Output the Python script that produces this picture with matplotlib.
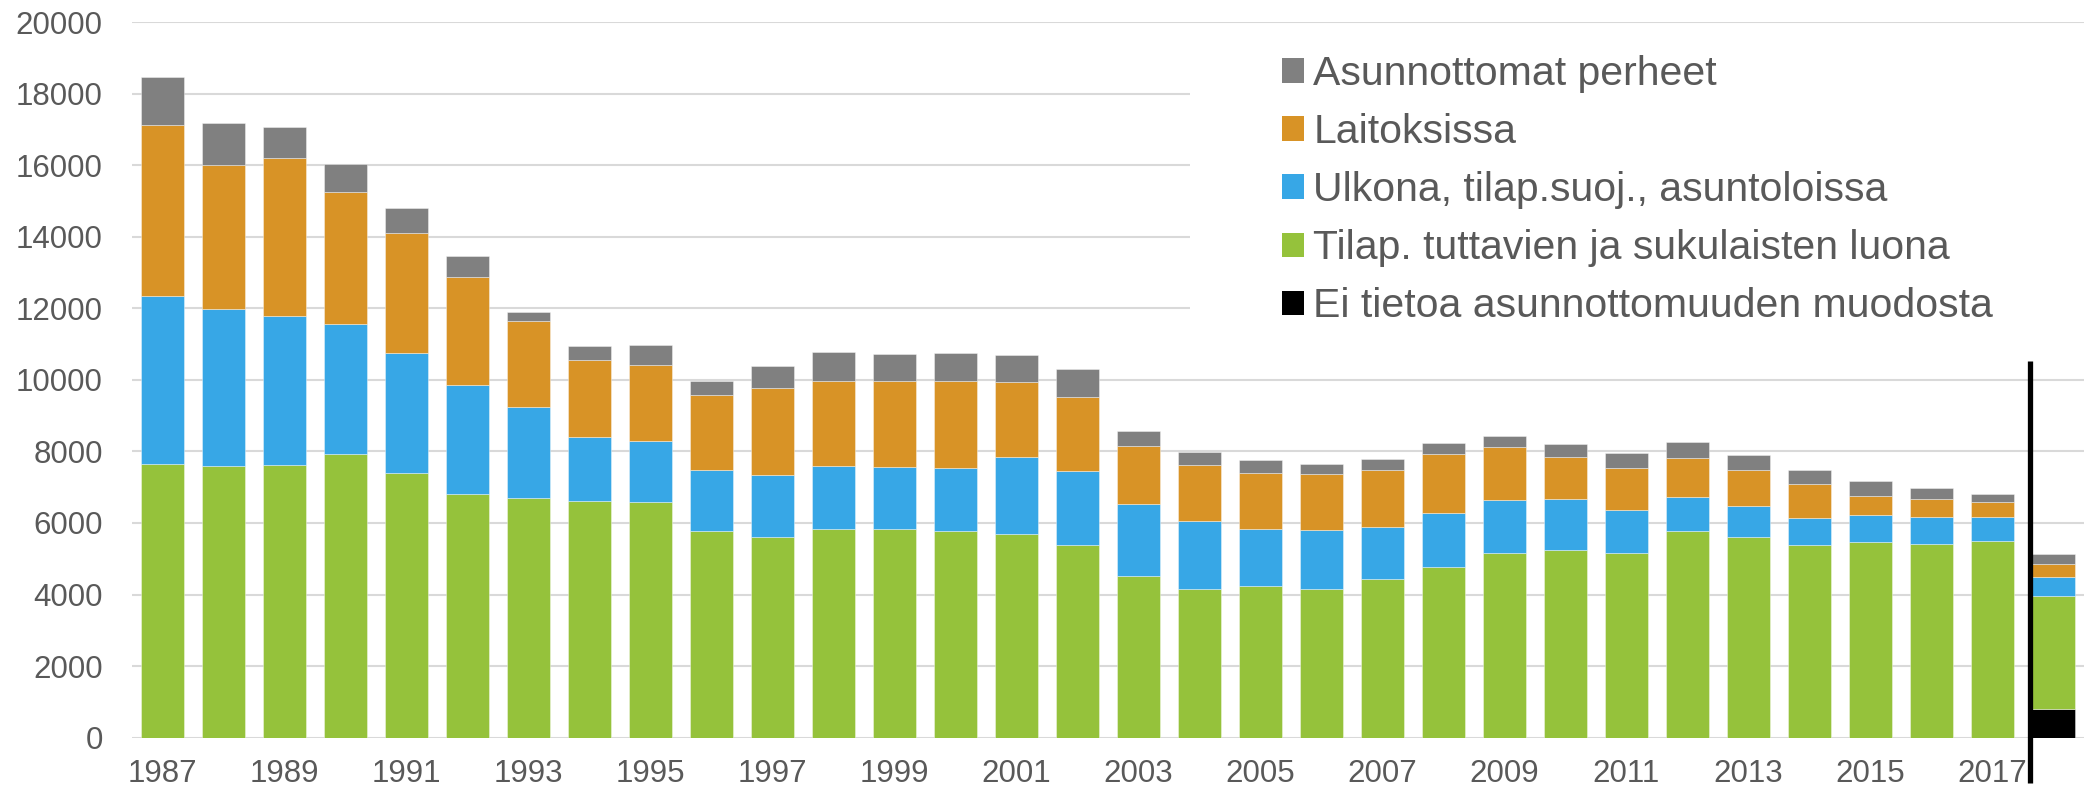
import numpy as np
import matplotlib
matplotlib.use("Agg")
import matplotlib.pyplot as plt
from matplotlib.patches import Rectangle

years = list(range(1987, 2019))
tick_labels = [str(y) for y in range(1987, 2018, 2)]

ei_tietoa = [0] * 31 + [800]
tuttavien = [7640, 7585, 7613, 7938, 7387, 6808, 6695, 6624, 6596, 5765, 5620, 5843, 5825, 5769,
             5685, 5396, 4520, 4166, 4231, 4147, 4427, 4762, 5172, 5247, 5154, 5778, 5601, 5387,
             5471, 5415, 5510, 3165]
ulkona = [4705, 4405, 4167, 3612, 3363, 3037, 2556, 1766, 1709, 1705, 1724, 1762, 1743, 1780,
          2172, 2050, 2004, 1901, 1612, 1650, 1472, 1529, 1464, 1417, 1211, 960, 867, 755,
          764, 764, 648, 515]
laitoksissa = [4775, 4000, 4410, 3690, 3350, 3035, 2402, 2161, 2119, 2120, 2442, 2358, 2395, 2423,
               2078, 2079, 1631, 1556, 1557, 1575, 1594, 1640, 1491, 1193, 1175, 1081, 1006, 941,
               513, 485, 432, 373]
perheet = [1350, 1200, 870, 790, 690, 570, 254, 381, 551, 365, 605, 811, 773, 774,
           773, 773, 419, 355, 363, 289, 307, 298, 316, 344, 419, 438, 420, 410,
           428, 326, 220, 267]

series = [
    ("Ei tietoa asunnottomuuden muodosta", ei_tietoa, "#000000"),
    ("Tilap. tuttavien ja sukulaisten luona", tuttavien, "#95C23B"),
    ("Ulkona, tilap.suoj., asuntoloissa", ulkona, "#37A7E6"),
    ("Laitoksissa", laitoksissa, "#D89326"),
    ("Asunnottomat perheet", perheet, "#808080"),
]

text_color = "#595959"
plt.rcParams["font.family"] = ["Liberation Sans", "DejaVu Sans"]
plt.rcParams["xtick.labelsize"] = 22.5
plt.rcParams["ytick.labelsize"] = 22.5

W, H = 2084, 792
fig = plt.figure(figsize=(W / 100, H / 100), dpi=100)
ax_left, ax_right = 132 / W, 1.0
ax_bottom, ax_top = (H - 737.7) / H, (H - 22) / H
ax = fig.add_axes([ax_left, ax_bottom, ax_right - ax_left, ax_top - ax_bottom])

x = np.arange(len(years))
bottom = np.zeros(len(years))
handles = []
for name, vals, col in series:
    v = np.array(vals, dtype=float)
    b = ax.bar(x, v, width=0.705, bottom=bottom, color=col, label=name, zorder=2,
               edgecolor=(1, 1, 1, 0.45), linewidth=0.6)
    handles.append(b)
    bottom += v

ax.set_xlim(-0.5, len(years) - 0.5)
ax.set_ylim(0, 20000)
ax.set_yticks(range(0, 20001, 2000))
ax.set_xticks(x[::2])
ax.set_xticklabels(tick_labels, fontsize=22.5)
for lbl in ax.get_yticklabels():
    lbl.set_fontsize(22.5)
ax.tick_params(axis="both", length=0, labelsize=22.5, labelcolor=text_color)
ax.tick_params(axis="x", pad=15)
ax.tick_params(axis="y", pad=21)
for s in ax.spines.values():
    s.set_visible(False)
ax.set_axisbelow(True)
ax.yaxis.grid(True, color="#D9D9D9", linewidth=1.5)

# white legend area covering the gridlines
ax.add_patch(Rectangle((1190 / W, 1 - 345 / H), 1 - 1190 / W, (345 - 35) / H,
                       transform=fig.transFigure, facecolor="white", edgecolor="none",
                       zorder=1, clip_on=False))

# separator line between 2017 and 2018
ax.plot([30.62, 30.62], [10530, -1265], color="black", linewidth=3.8,
        solid_capstyle="butt", clip_on=False, zorder=5)

leg = fig.legend(handles[::-1], [s[0] for s in series][::-1],
                 loc="upper left", bbox_to_anchor=(1282 / W, 1 - 55 / H),
                 frameon=False, fontsize=29.5, labelcolor=text_color,
                 handlelength=0.54, handleheight=0.54, handletextpad=0.22,
                 labelspacing=0.49, borderpad=0, borderaxespad=0)
for h in leg.legend_handles:
    h.set_edgecolor("none")

fig.savefig("out.png", dpi=100)
